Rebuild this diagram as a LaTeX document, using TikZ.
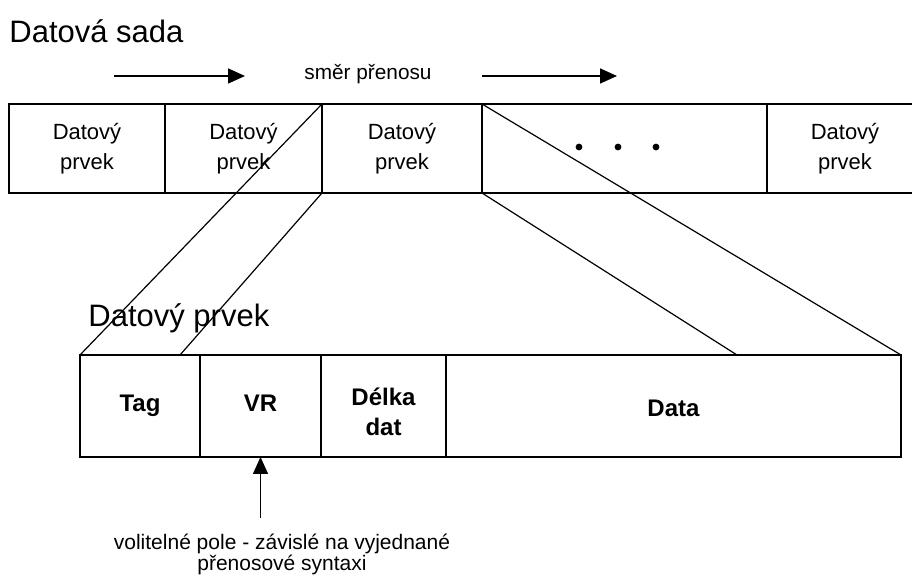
\documentclass[tikz,border=0pt]{standalone}
\usepackage{fontspec}
\setmainfont{Liberation Sans}
\usetikzlibrary{positioning, arrows.meta, calc}

\tikzset{
  cell/.style={draw, line width=0.75pt, inner sep=0pt, outer sep=0pt, align=center,
               minimum height=44.5pt, font=\fontsize{11}{15}\selectfont},
  field/.style={cell, minimum height=51pt, font=\bfseries\fontsize{12}{15}\selectfont},
  dirarrow/.style={-{Triangle[length=8.5pt,width=7.5pt]}, line width=0.75pt},
  fan/.style={line width=0.6pt},
  title/.style={anchor=west, inner sep=0pt, font=\fontsize{15.5}{18}\selectfont}
}

\begin{document}
\begin{tikzpicture}[x=0.5pt, y=-0.5pt, node distance=0pt]
  \useasboundingbox (0,0) rectangle (912,576);
  \clip (0,0) rectangle (912,576);

  % datova sada
  \node[title] (settitle) at (9,31) {Datová sada};
  \node[inner sep=0pt, font=\fontsize{10.4}{12}\selectfont] (dir) at (368,74) {směr přenosu};
  \coordinate (a1s) at (114,76);
  \coordinate (a1e) at (245,76);
  \coordinate (a2s) at (482,76);
  \coordinate (a2e) at (617,76);
  \draw[dirarrow] (a1s) -- (a1e);
  \draw[dirarrow] (a2s) -- (a2e);

  \node[cell, minimum width=78pt, anchor=north west] (c1) at (9,104) {Datový\\prvek};
  \node[cell, minimum width=78.5pt, right=of c1] (c2) {Datový\\prvek};
  \node[cell, minimum width=80pt, right=of c2]   (c3) {Datový\\prvek};
  \node[cell, minimum width=142.5pt, right=of c3] (c4) {};
  \node[cell, minimum width=78pt, right=of c4]   (c5) {Datový\\prvek};
  \foreach \x in {579,618,656}
    \fill (\x,147) circle (1.7pt);

  % datovy prvek
  \node[title] (elemtitle) at (88,318) {Datový prvek};
  \node[field, minimum width=60pt, anchor=north west] (tag) at (80,355) {Tag\strut};
  \node[field, minimum width=60.5pt, right=of tag] (vr)   {VR\strut};
  \node[field, minimum width=62.5pt, right=of vr]  (len)  {\rule{0pt}{14.5pt}Délka\\dat};
  \node[field, minimum width=227.5pt, right=of len] (data) {\raisebox{-2.5pt}{Data}\strut};

  \coordinate (tagmid)  at ([xshift=50pt]tag.north west);
  \coordinate (datamid) at ([xshift=145.5pt]data.north west);
  \draw[fan] (c3.north west) -- (tag.north west);
  \draw[fan] (c3.south west) -- (tagmid);
  \draw[fan] (c4.north west) -- (data.north east);
  \draw[fan] (c4.south west) -- (datamid);

  \node[inner sep=0pt, align=center, font=\fontsize{10.5}{10.5}\selectfont] (note) at (282,554)
       {volitelné pole - závislé na vyjednané\\přenosové syntaxi};
  \coordinate (hint) at ([yshift=-30.5pt]vr.south);
  \draw[dirarrow] (hint) -- (vr.south);
\end{tikzpicture}
\end{document}
